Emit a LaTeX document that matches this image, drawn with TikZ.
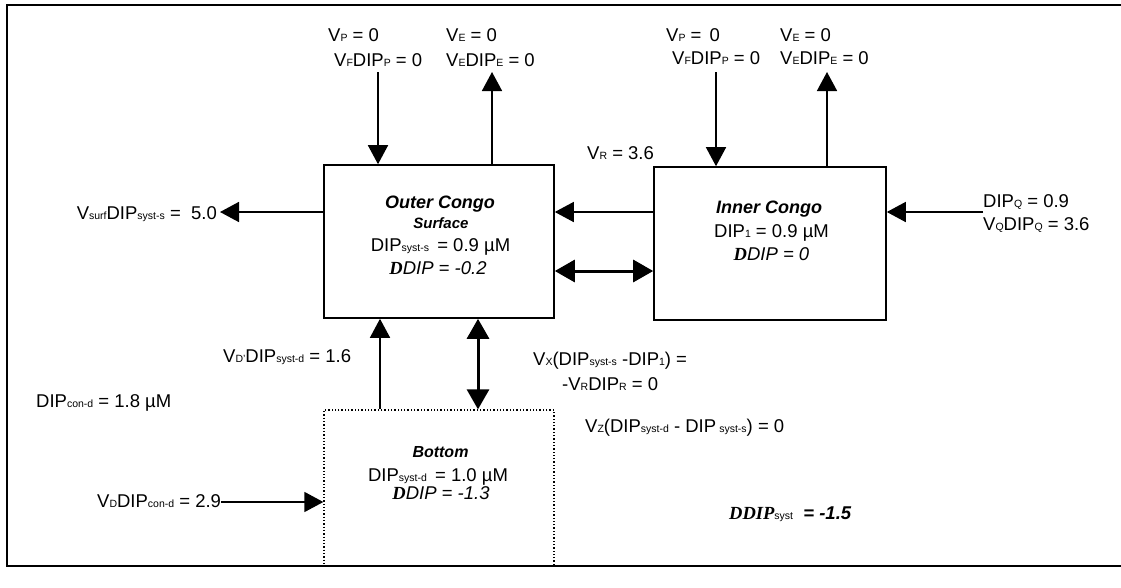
\documentclass[tikz,border=0pt]{standalone}
\usepackage{fontspec}
\setmainfont{Liberation Sans}
\newfontfamily\serifD{Liberation Serif}
\usetikzlibrary{arrows.meta}
\newcommand{\lw}[1]{\raisebox{-0.8pt}{\fontsize{10.5}{10.5}\selectfont #1}}
\newcommand{\Dd}{{\serifD\bfseries\itshape D}}
\tikzset{
  lbl/.style={anchor=base west, inner sep=0pt, font=\fontsize{18.5}{20}\selectfont},
  lble/.style={anchor=base east, inner sep=0pt, font=\fontsize{18.5}{20}\selectfont},
  ctr/.style={anchor=base, inner sep=0pt, font=\fontsize{18.5}{20}\selectfont},
  ttl/.style={anchor=base, inner sep=0pt, font=\fontsize{18}{20}\selectfont\bfseries\itshape},
  box/.style={draw, line width=1.6pt, inner sep=0pt},
  dbox/.style={draw, line width=1.3pt, dotted, inner sep=0pt},
  arr/.style={line width=1.6pt, -{Triangle[length=19pt,width=20pt]}},
  darr/.style={line width=3pt, {Triangle[length=20pt,width=22pt]}-{Triangle[length=20pt,width=22pt]}}
}
\begin{document}
\begin{tikzpicture}[x=1pt,y=-1pt]
\useasboundingbox (0,0) rectangle (1121,587);
\draw[line width=2pt] (7,5) rectangle (1135,566);

% boxes
\node[box, minimum width=230pt, minimum height=153pt] (outer) at (439,241.5) {};
\node[box, minimum width=232pt, minimum height=153pt] (inner) at (770,243.5) {};
\node[dbox, minimum width=230pt, minimum height=156pt] (bottom) at (439,488) {};

% outer box text
\node[ttl] (ot) at (440,208) {Outer Congo};
\node[ttl, font=\fontsize{15}{17}\selectfont\bfseries\itshape] (os) at (441,228) {Surface};
\node[ctr] (od) at (440.5,251) {DIP\lw{syst-s} \,= 0.9 µM};
\node[ctr] (odd) at (438,274) {\Dd\itshape DIP = -0.2};

% inner box text
\node[ttl] (it) at (769,213) {Inner Congo};
\node[ctr] (id) at (771.5,237) {DIP\lw{1} = 0.9 µM};
\node[ctr] (idd) at (771.5,260) {\Dd\itshape DIP = 0};

% bottom box text
\node[ttl, font=\fontsize{16}{18}\selectfont\bfseries\itshape] (bt) at (440.5,457) {Bottom};
\node[ctr] (bd) at (438,481) {DIP\lw{syst-d} \,= 1.0 µM};
\node[ctr] (bdd) at (441,499) {\Dd\itshape DIP = -1.3};

% top labels outer
\node[lbl] (vp1) at (328,41) {V\lw{P} = 0};
\node[lbl] (vfp1) at (334,66) {V\lw{F}DIP\lw{P} = 0};
\node[lbl] (ve1) at (446,41) {V\lw{E} = 0};
\node[lbl] (vep1) at (446,66) {V\lw{E}DIP\lw{E} = 0};
% top labels inner
\node[lbl] (vp2) at (666,41) {V\lw{P} = \,0};
\node[lbl] (vfp2) at (672,64) {V\lw{F}DIP\lw{P} = 0};
\node[lbl] (ve2) at (780,41) {V\lw{E} = 0};
\node[lbl] (vep2) at (780,64) {V\lw{E}DIP\lw{E} = 0};

\node[lbl] (vr) at (587,159) {V\lw{R} = 3.6};

\node[lble] (vsurf) at (217,219) {V\lw{surf}DIP\lw{syst-s} = \;5.0};
\node[lbl] (dipq) at (983,207) {DIP\lw{Q} = 0.9};
\node[lbl] (vq) at (983,230) {V\lw{Q}DIP\lw{Q} = 3.6};

\node[lbl] (vdp) at (223,362) {V\lw{D'}DIP\lw{syst-d} = 1.6};
\node[lbl] (dipcon) at (36,407) {DIP\lw{con-d} = 1.8 µM};
\node[lbl] (vd) at (97,507) {V\lw{D}DIP\lw{con-d} = 2.9};

\node[lbl] (vx) at (533,365) {V\lw{X}(DIP\lw{syst-s} -DIP\lw{1}) =};
\node[lbl] (vr2) at (562,390) {-V\lw{R}DIP\lw{R} = 0};
\node[lbl] (vz) at (585,432) {V\lw{Z}(DIP\lw{syst-d} - DIP\,\lw{syst-s}) = 0};

\node[lbl] (dsys) at (729,519) {{\serifD\bfseries\itshape DDIP}\lw{syst} \ {\bfseries\itshape = -1.5}};

% connector coordinates
\coordinate (c378) at (378,72);
\coordinate (c492) at (492,72);
\coordinate (c716) at (716,72);
\coordinate (c827) at (827,72);
\coordinate (r1) at (0,212);
\coordinate (r2) at (0,271);
\coordinate (c380) at (380,0);
\coordinate (c478) at (478,0);

% connectors
\draw[arr] (c378) -- (c378 |- outer.north);
\draw[arr] (c492 |- outer.north) -- (c492);
\draw[arr] (c716) -- (c716 |- inner.north);
\draw[arr] (c827 |- inner.north) -- (c827);
\draw[arr] (inner.west |- r1) -- (outer.east |- r1);
\draw[darr] (outer.east |- r2) -- (inner.west |- r2);
\draw[arr] (outer.west |- r1) -- ([xshift=3pt]vsurf.east |- r1);
\draw[arr] (dipq.west |- r1) -- (inner.east |- r1);
\draw[arr] (c380 |- bottom.north) -- (c380 |- outer.south);
\draw[darr] (c478 |- outer.south) -- (c478 |- bottom.north);
\draw[arr] ([yshift=-1pt]vd.east) -- ([yshift=-1pt]vd.east -| bottom.west);
\end{tikzpicture}
\end{document}
